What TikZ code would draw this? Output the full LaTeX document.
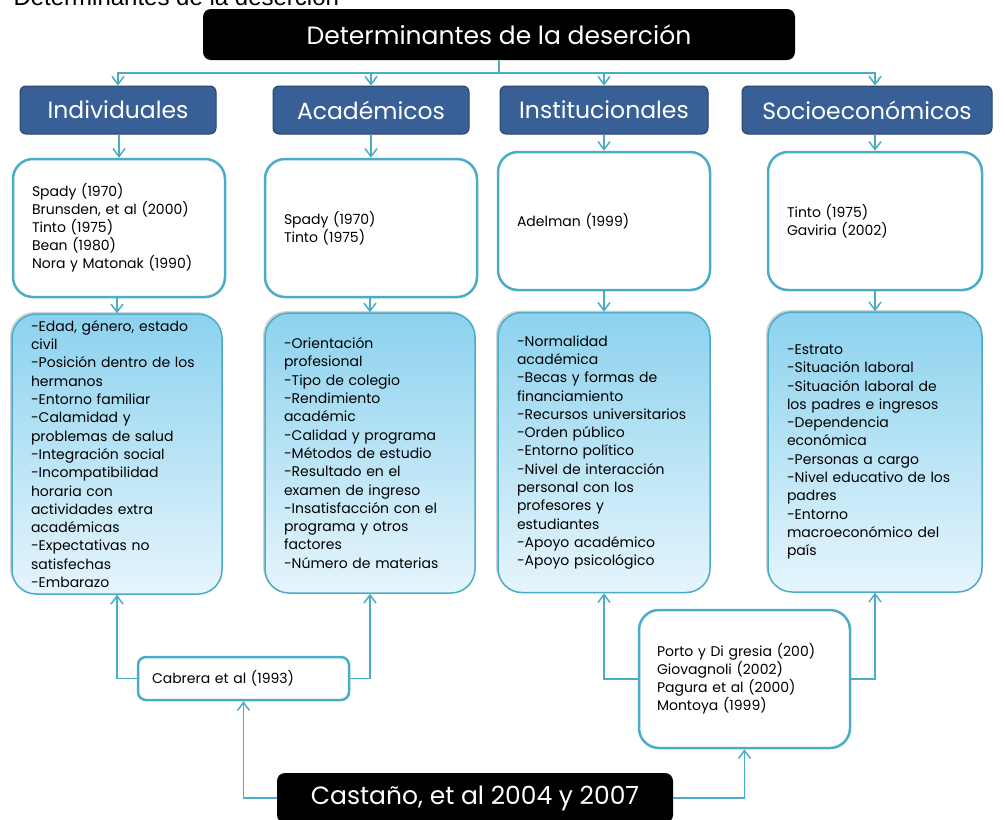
\documentclass[tikz,border=0pt]{standalone}
\usepackage{fontspec}
\setmainfont{Poppins}
\newfontfamily\capfont{Liberation Sans}
\usetikzlibrary{arrows.meta,shadows}
\definecolor{linecol}{RGB}{75,172,198}
\definecolor{headcol}{RGB}{56,96,150}
\definecolor{topblue}{RGB}{140,210,238}
\definecolor{lowblue}{RGB}{230,245,252}
\begin{document}
\begin{tikzpicture}[x=1pt,y=-1pt,
dark/.style={fill=black,rounded corners=8pt,text=white,inner sep=0pt,font=\fontsize{25}{30}\selectfont},
head/.style={fill=headcol,draw=headcol!70!black,line width=1pt,rounded corners=6pt,text=white,inner sep=0pt,minimum height=48pt,font=\fontsize{23.5}{28}\selectfont},
src/.style={draw=linecol,line width=2.5pt,fill=white,rounded corners=20pt,minimum height=138pt,text width=174pt,inner xsep=19pt,align=left,font=\fontsize{14}{18}\selectfont},
fac/.style={draw=linecol,line width=1.5pt,top color=topblue,bottom color=lowblue,rounded corners=24pt,minimum height=280pt,text width=172pt,inner xsep=19pt,align=left,font=\fontsize{14}{18.3}\selectfont,drop shadow={shadow xshift=-2pt,shadow yshift=2pt,opacity=.35}},
wire/.style={draw=linecol,line width=1.5pt},
ref/.style={wire,-{Straight Barb[length=8pt,width=12pt]}}]
\useasboundingbox (0,0) rectangle (1005,820);
\node[font=\capfont\fontsize{24}{28}\selectfont,anchor=base west] (cap) at (10,5) {Determinantes de la deserción};
\node[dark,minimum width=592pt,minimum height=51pt] (top) at (499,34.5) {Determinantes de la deserción};
\coordinate (bus) at (499,73);
\node[head,minimum width=196pt] (hind) at (118,110) {Individuales};
\node[head,minimum width=196pt] (haca) at (371,110) {Académicos};
\node[head,minimum width=208pt] (hins) at (604,110) {Institucionales};
\node[head,minimum width=250pt] (hsoc) at (867,110) {Socioeconómicos};
\node[src] (w1) at (119,228) {Spady (1970)\\Brunsden, et al (2000)\\Tinto (1975)\\Bean (1980)\\Nora y Matonak (1990)};
\node[src] (w2) at (371,228) {Spady (1970)\\Tinto (1975)};
\node[src] (w3) at (604,221) {Adelman (1999)};
\node[src,text width=176pt] (w4) at (875,221) {Tinto (1975)\\Gaviria (2002)};
\node[fac] (b1) at (117,454) {-Edad, género, estado\\civil\\-Posición dentro de los\\hermanos\\-Entorno familiar\\-Calamidad y\\problemas de salud\\-Integración social\\-Incompatibilidad\\horaria con\\actividades extra\\académicas\\-Expectativas no\\satisfechas\\-Embarazo};
\node[fac] (b2) at (370,453) {-Orientación\\profesional\\-Tipo de colegio\\-Rendimiento\\académic\\-Calidad y programa\\-Métodos de estudio\\-Resultado en el\\examen de ingreso\\-Insatisfacción con el\\programa y otros\\factores\\-Número de materias};
\node[fac,text width=174pt] (b3) at (604,452.5) {-Normalidad\\académica\\-Becas y formas de\\financiamiento\\-Recursos universitarios\\-Orden público\\-Entorno político\\-Nivel de interacción\\personal con los\\profesores y\\estudiantes\\-Apoyo académico\\-Apoyo psicológico};
\node[fac,text width=176pt] (b4) at (875,452) {-Estrato\\-Situación laboral\\-Situación laboral de\\los padres e ingresos\\-Dependencia\\económica\\-Personas a cargo\\-Nivel educativo de los\\padres\\-Entorno\\macroeconómico del\\país};
\node[src,rounded corners=8pt,minimum height=43pt,text width=183pt,inner xsep=14pt] (cab) at (243.5,678.5) {Cabrera et al (1993)};
\node[src,text width=175pt,inner xsep=18pt] (por) at (744.5,679) {Porto y Di gresia (200)\\Giovagnoli (2002)\\Pagura et al (2000)\\Montoya (1999)};
\node[dark,minimum width=396pt,minimum height=50pt] (cas) at (475,798) {Castaño, et al 2004 y 2007};
\draw[wire] (top.south) -- (bus);
\draw[ref] (bus) -| (hind.north); \draw[ref] (bus) -| (haca.north);
\draw[ref] (bus) -| (hins.north); \draw[ref] (bus) -| (w4.north |- hsoc.north);
\draw[ref] (w1.north |- hind.south) -- (w1.north); \draw[ref] (w2.north |- haca.south) -- (w2.north);
\draw[ref] (w3.north |- hins.south) -- (w3.north); \draw[ref] (w4.north |- hsoc.south) -- (w4.north);
\draw[ref] (b1.north |- w1.south) -- (b1.north); \draw[ref] (b2.north |- w2.south) -- (b2.north);
\draw[ref] (b3.north |- w3.south) -- (b3.north); \draw[ref] (b4.north |- w4.south) -- (b4.north);
\draw[ref] (cab.west) -| (b1.south); \draw[ref] (cab.east) -| (b2.south);
\draw[ref] (por.west) -| (b3.south); \draw[ref] (por.east) -| (b4.south);
\draw[ref] (cas.west) -| (cab.south); \draw[ref] (cas.east) -| (por.south);
\end{tikzpicture}
\end{document}
